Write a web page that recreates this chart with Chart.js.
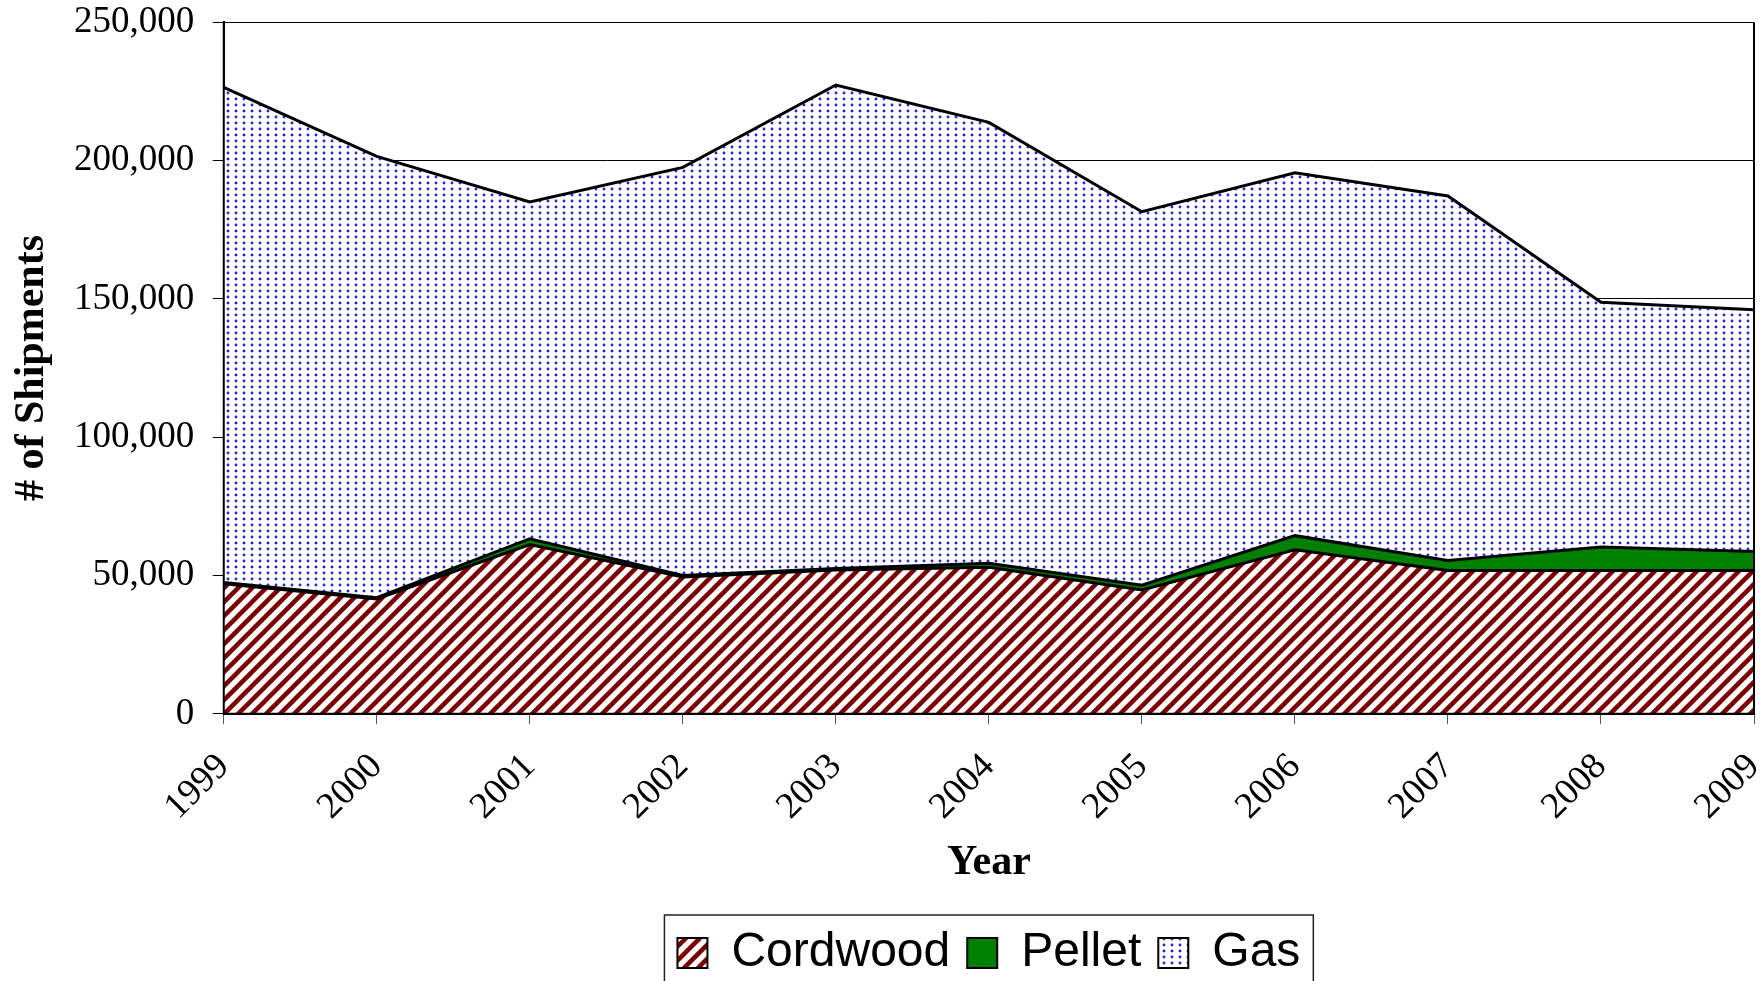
<!DOCTYPE html>
<html>
<head>
<meta charset="utf-8">
<title>Shipments by Year</title>
<script src="https://cdn.jsdelivr.net/npm/chart.js@4.4.1/dist/chart.umd.min.js"></script>
<style>
  html, body { margin: 0; padding: 0; background: #ffffff; }
  #wrap { width: 1762px; height: 981px; }
</style>
</head>
<body>
<div id="wrap"><canvas id="shipChart" width="1762" height="981"></canvas></div>
<script>
/* =========================================
   SHIPMENTS CHART - STACKED AREA
   ========================================= */

// --- 1. DATA ---
const years = ['1999', '2000', '2001', '2002', '2003', '2004', '2005', '2006', '2007', '2008', '2009'];
const cordwood = [47000, 41500, 61200, 49500, 52000, 53000, 44800, 59300, 51800, 51800, 51800];
const pellet = [500, 500, 2100, 500, 500, 1400, 1700, 5100, 3600, 8500, 6900];
const gas = [178900, 159500, 121700, 147500, 174800, 159400, 135000, 131200, 131800, 88500, 87400];

const yMin = 0;
const yMax = 250000;
const yStep = 50000;

// --- 2. PATTERNS ---
function makeStripePattern(ctx) {
    const size = 14;
    const c = document.createElement('canvas');
    c.width = size;
    c.height = size;
    const p = c.getContext('2d');
    p.fillStyle = '#ffffff';
    p.fillRect(0, 0, size, size);
    p.strokeStyle = '#800000';
    p.lineWidth = 4.5;
    for (let k = -1; k <= 1; k++) {
        p.beginPath();
        p.moveTo(k * size - 2, size + 2);
        p.lineTo(k * size + size + 2, -2);
        p.stroke();
    }
    return ctx.createPattern(c, 'repeat');
}

function makeDotPattern(ctx) {
    const w = 8, h = 6;
    const c = document.createElement('canvas');
    c.width = w;
    c.height = h;
    const p = c.getContext('2d');
    p.fillStyle = '#ffffff';
    p.fillRect(0, 0, w, h);
    p.fillStyle = '#1f1fff';
    p.beginPath();
    p.arc(4, 3, 1.4, 0, Math.PI * 2);
    p.fill();
    return ctx.createPattern(c, 'repeat');
}

// --- 3. PLUGINS (frame around plot + legend box) ---
const plotFrame = {
    id: 'plotFrame',
    afterDatasetsDraw(chart) {
        const { ctx, chartArea: a } = chart;
        ctx.save();
        ctx.strokeStyle = '#000000';
        ctx.lineWidth = 2;
        ctx.beginPath();
        ctx.moveTo(a.left, a.top);
        ctx.lineTo(a.left, a.bottom);
        ctx.lineTo(a.right, a.bottom);
        ctx.lineTo(a.right, a.top);
        ctx.stroke();
        ctx.restore();
    }
};

const legendFrame = {
    id: 'legendFrame',
    afterDraw(chart) {
        const boxes = chart.legend && chart.legend.legendHitBoxes;
        if (!boxes || !boxes.length) return;
        const ctx = chart.ctx;
        const left = Math.min(...boxes.map(b => b.left)) - 13;
        const right = Math.max(...boxes.map(b => b.left + b.width)) + 13;
        const top = boxes[0].top - 14;
        ctx.save();
        ctx.strokeStyle = '#222222';
        ctx.lineWidth = 1.5;
        ctx.strokeRect(left, top, right - left, chart.height - top + 10);
        ctx.restore();
    }
};

// --- 4. CHART ---
const canvas = document.getElementById('shipChart');
const ctx = canvas.getContext('2d');
const serif = 'Liberation Serif, Times New Roman, serif';

new Chart(ctx, {
    type: 'line',
    data: {
        labels: years,
        datasets: [
            {
                label: 'Cordwood',
                data: cordwood,
                backgroundColor: makeStripePattern(ctx),
                borderColor: '#000000',
                borderWidth: 3,
                fill: 'origin'
            },
            {
                label: 'Pellet',
                data: pellet,
                backgroundColor: '#008000',
                borderColor: '#000000',
                borderWidth: 3,
                fill: '-1'
            },
            {
                label: 'Gas',
                data: gas,
                backgroundColor: makeDotPattern(ctx),
                borderColor: '#000000',
                borderWidth: 3,
                fill: '-1'
            }
        ]
    },
    options: {
        responsive: false,
        animation: false,
        layout: { padding: { top: 0, right: 8, left: 0, bottom: -6 } },
        elements: {
            point: { radius: 0 },
            line: { tension: 0 }
        },
        plugins: {
            tooltip: { enabled: false },
            legend: {
                position: 'bottom',
                fullSize: false,
                labels: {
                    color: '#000000',
                    boxWidth: 30,
                    boxHeight: 30,
                    padding: 17,
                    font: { family: 'Liberation Sans, Arial, sans-serif', size: 48 },
                    generateLabels(chart) {
                        const items = Chart.defaults.plugins.legend.labels.generateLabels(chart);
                        items.forEach(i => { i.lineWidth = 2; i.strokeStyle = '#000000'; });
                        return items;
                    }
                }
            }
        },
        scales: {
            x: {
                offset: false,
                // long tick slot so the labels sit low, but only the first 9px is drawn
                grid: {
                    drawOnChartArea: false,
                    drawTicks: true,
                    tickLength: 43,
                    tickBorderDash: [9, 200],
                    color: '#555555'
                },
                border: { display: true, color: '#000000', width: 2 },
                ticks: {
                    minRotation: 45,
                    maxRotation: 45,
                    padding: 0,
                    color: '#000000',
                    font: { family: serif, size: 37, lineHeight: 0.3 }
                },
                title: {
                    display: true,
                    text: 'Year',
                    color: '#000000',
                    font: { family: serif, size: 42, weight: 'bold', lineHeight: 1 },
                    padding: { top: 25, bottom: 28 }
                }
            },
            y: {
                stacked: true,
                min: yMin,
                max: yMax,
                grid: { color: '#000000', lineWidth: 1, tickLength: 11 },
                border: { color: '#000000', width: 2 },
                ticks: {
                    stepSize: yStep,
                    padding: 0,
                    color: '#000000',
                    font: { family: serif, size: 37 },
                    callback: v => v.toLocaleString('en-US') + '  '
                },
                title: {
                    display: true,
                    text: '# of Shipments',
                    color: '#000000',
                    font: { family: serif, size: 42, weight: 'bold', lineHeight: 1 },
                    padding: { top: 11, bottom: 21 }
                }
            }
        }
    },
    plugins: [plotFrame, legendFrame]
});
</script>
</body>
</html>
